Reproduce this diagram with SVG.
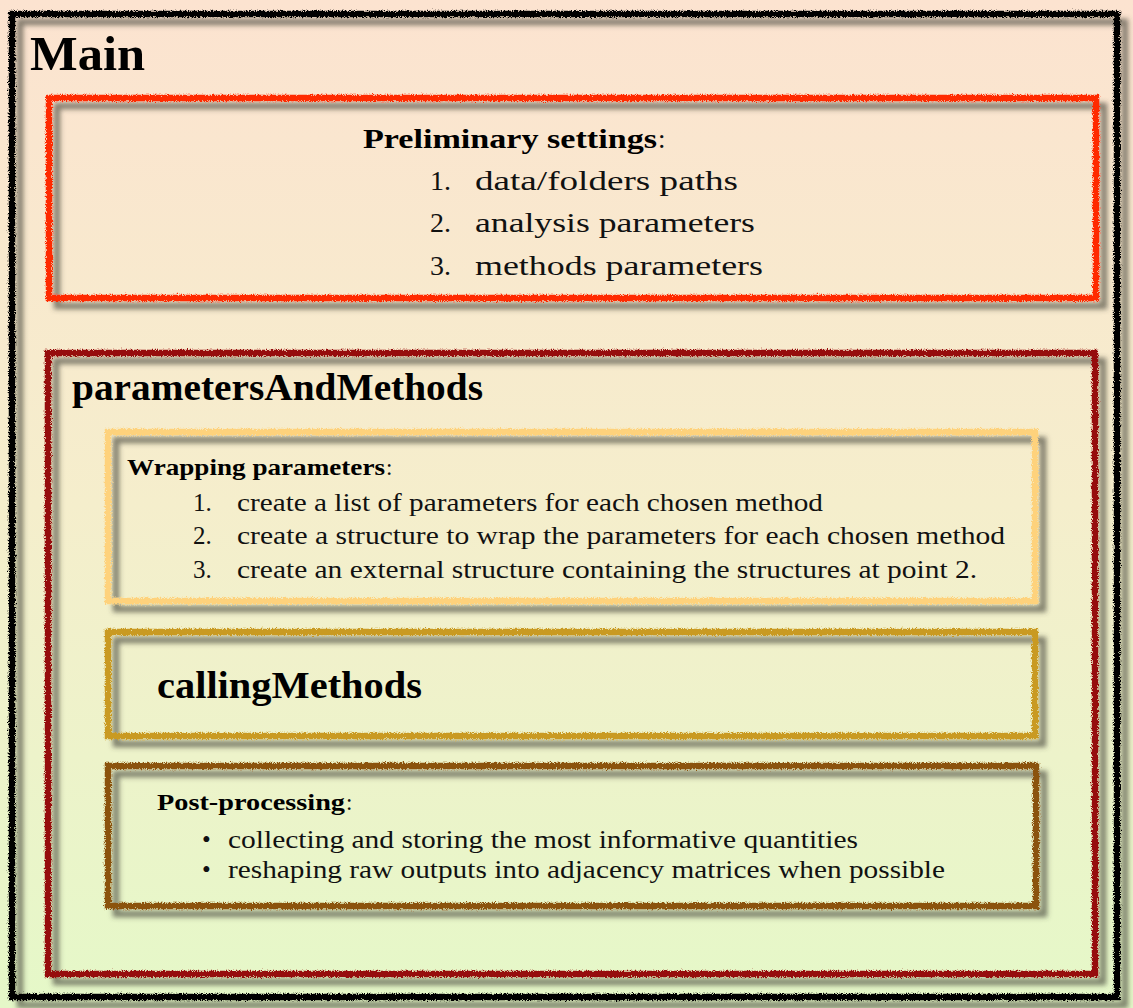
<svg xmlns="http://www.w3.org/2000/svg" width="1133" height="1008" viewBox="0 0 1133 1008">
<defs>
<linearGradient id="bg" x1="0" y1="0" x2="0" y2="1">
<stop offset="0" stop-color="#fce3d0"/>
<stop offset="0.5" stop-color="#f5eecc"/>
<stop offset="1" stop-color="#e5f8c8"/>
</linearGradient>
<filter id="sk" filterUnits="userSpaceOnUse" x="0" y="0" width="1133" height="1008">
<feTurbulence type="fractalNoise" baseFrequency="1.2" numOctaves="2" seed="3" result="n"/>
<feDisplacementMap in="SourceGraphic" in2="n" scale="5" xChannelSelector="R" yChannelSelector="G" result="d"/>
<feGaussianBlur in="SourceAlpha" stdDeviation="2.5" result="b"/>
<feOffset in="b" dx="8" dy="8" result="o"/>
<feFlood flood-color="#45453a" flood-opacity="0.65"/>
<feComposite in2="o" operator="in" result="s"/>
<feMerge><feMergeNode in="s"/><feMergeNode in="d"/></feMerge>
</filter>
<style>
.box{fill:none;stroke-width:6.5;filter:url(#sk)}
.b{font-family:"Liberation Serif","Times New Roman",serif;font-weight:bold;fill:#000}
.r{font-family:"Liberation Serif","Times New Roman",serif;fill:#111}
</style>
</defs>
<rect x="0" y="0" width="1133" height="1008" fill="url(#bg)"/>
<g id="main">
<rect class="box" x="12" y="14" width="1105" height="983" stroke="#000" stroke-width="7.5"/>
<text class="b" x="30" y="70" font-size="48" textLength="115" lengthAdjust="spacingAndGlyphs">Main</text>
</g>
<g id="preliminary">
<rect class="box" x="49" y="98" width="1047" height="200" stroke="#ff2a00"/>
<text class="b" x="363" y="148" font-size="27" textLength="294" lengthAdjust="spacingAndGlyphs">Preliminary settings</text>
<text class="r" x="658" y="148" font-size="27">:</text>
<text class="r" x="430" y="190" font-size="28">1.</text>
<text class="r" x="475" y="190" font-size="28" textLength="263" lengthAdjust="spacingAndGlyphs">data/folders paths</text>
<text class="r" x="430" y="232" font-size="28">2.</text>
<text class="r" x="475" y="232" font-size="28" textLength="280" lengthAdjust="spacingAndGlyphs">analysis parameters</text>
<text class="r" x="430" y="275" font-size="28">3.</text>
<text class="r" x="475" y="275" font-size="28" textLength="288" lengthAdjust="spacingAndGlyphs">methods parameters</text>
</g>
<g id="parametersAndMethods">
<rect class="box" x="48" y="353" width="1047" height="621" stroke="#960f0f"/>
<text class="b" x="72" y="400" font-size="38" textLength="411" lengthAdjust="spacingAndGlyphs">parametersAndMethods</text>
</g>
<g id="wrapping">
<rect class="box" x="108" y="432" width="927" height="169" stroke="#fed27c"/>
<text class="b" x="127" y="475" font-size="23" textLength="258" lengthAdjust="spacingAndGlyphs">Wrapping parameters</text>
<text class="r" x="386" y="475" font-size="23">:</text>
<text class="r" x="193" y="511" font-size="25">1.</text>
<text class="r" x="237" y="511" font-size="25" textLength="586" lengthAdjust="spacingAndGlyphs">create a list of parameters for each chosen method</text>
<text class="r" x="193" y="544" font-size="25">2.</text>
<text class="r" x="237" y="544" font-size="25" textLength="768" lengthAdjust="spacingAndGlyphs">create a structure to wrap the parameters for each chosen method</text>
<text class="r" x="193" y="578" font-size="25">3.</text>
<text class="r" x="237" y="578" font-size="25" textLength="740" lengthAdjust="spacingAndGlyphs">create an external structure containing the structures at point 2.</text>
</g>
<g id="callingMethods">
<rect class="box" x="108" y="632" width="927" height="104" stroke="#c99a22"/>
<text class="b" x="157" y="698" font-size="38" textLength="265" lengthAdjust="spacingAndGlyphs">callingMethods</text>
</g>
<g id="postprocessing">
<rect class="box" x="108" y="766" width="928" height="140" stroke="#8b520c"/>
<text class="b" x="157" y="810" font-size="23" textLength="188" lengthAdjust="spacingAndGlyphs">Post-processing</text>
<text class="r" x="346" y="810" font-size="23">:</text>
<text class="r" x="202" y="848" font-size="25">•</text>
<text class="r" x="228" y="848" font-size="25" textLength="630" lengthAdjust="spacingAndGlyphs">collecting and storing the most informative quantities</text>
<text class="r" x="202" y="878" font-size="25">•</text>
<text class="r" x="228" y="878" font-size="25" textLength="717" lengthAdjust="spacingAndGlyphs">reshaping raw outputs into adjacency matrices when possible</text>
</g>
<g id="connectors"></g>
</svg>
